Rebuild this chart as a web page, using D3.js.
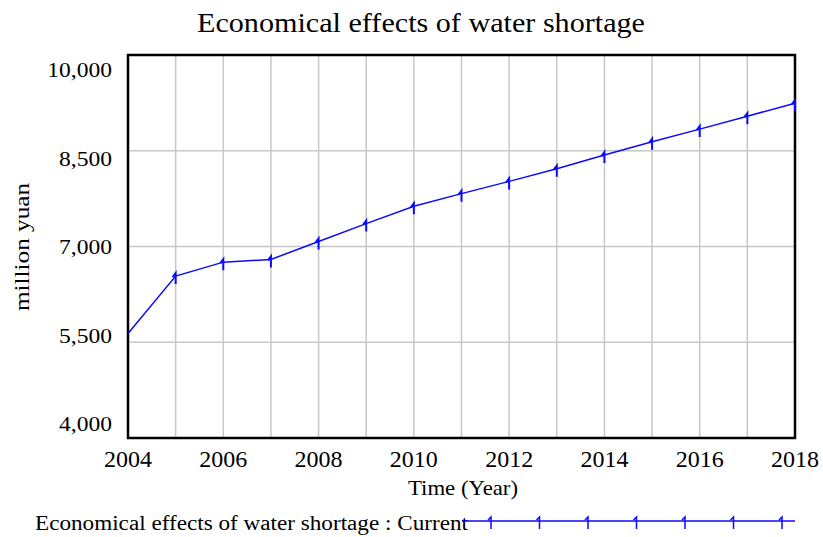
<!DOCTYPE html>
<html>
<head>
<meta charset="utf-8">
<script src="https://cdn.jsdelivr.net/npm/d3@7"></script>
<style>
  body { margin: 0; background: #fff; }
  text { font-family: "Liberation Serif", "Times New Roman", serif; fill: #000; }
</style>
</head>
<body>
<div id="chart"></div>
<script>
// chart values
const years = [2004, 2005, 2006, 2007, 2008, 2009, 2010, 2011, 2012, 2013, 2014, 2015, 2016, 2017, 2018];
const current = [5636, 6536, 6755, 6797, 7078, 7359, 7630, 7828, 8020, 8219, 8432, 8641, 8839, 9042, 9245];
const yTicks = [4000, 5500, 7000, 8500, 10000];
const xTicks = [2004, 2006, 2008, 2010, 2012, 2014, 2016, 2018];

const width = 823;
const height = 537;
const margin = {left: 128, right: 28, top: 55, bottom: 99};
const lineColor = "#0a0aff";

const svg = d3.select("#chart")
  .append("svg")
  .attr("width", width)
  .attr("height", height);

const xScale = d3.scaleLinear()
  .domain([2004, 2018])
  .range([margin.left, width - margin.right]);

const yScale = d3.scaleLinear()
  .domain([4000, 10000])
  .range([height - margin.bottom, margin.top]);

// vensim squeezes the y labels inside the frame, so they get their own scale
const yLabelScale = d3.scaleLinear()
  .domain([4000, 10000])
  .range([431, 77]);

// stretch a text element horizontally by a factor
function stretch(sel, f) {
  sel.each(function() {
    const w = this.getComputedTextLength();
    d3.select(this).attr("textLength", w * f).attr("lengthAdjust", "spacingAndGlyphs");
  });
}

// grid lines, one per year and one per y tick
svg.append("g")
  .selectAll("line")
  .data(years)
  .join("line")
    .attr("x1", d => xScale(d)).attr("x2", d => xScale(d))
    .attr("y1", margin.top).attr("y2", height - margin.bottom)
    .attr("stroke", "#c8c8c8").attr("stroke-width", 1.5);

svg.append("g")
  .selectAll("line")
  .data(yTicks)
  .join("line")
    .attr("x1", margin.left).attr("x2", width - margin.right)
    .attr("y1", d => yScale(d)).attr("y2", d => yScale(d))
    .attr("stroke", "#c8c8c8").attr("stroke-width", 1.5);

// y labels
svg.append("g")
  .selectAll("text")
  .data(yTicks)
  .join("text")
    .attr("x", 112)
    .attr("y", d => yLabelScale(d))
    .attr("text-anchor", "end")
    .attr("font-size", "22px")
    .text(d3.format(","))
    .call(stretch, 1.07);

// x labels
svg.append("g")
  .selectAll("text")
  .data(xTicks)
  .join("text")
    .attr("x", d => xScale(d))
    .attr("y", 467)
    .attr("text-anchor", "middle")
    .attr("font-size", "24px")
    .text(d3.format("d"));

// frame
svg.append("rect")
  .attr("x", margin.left).attr("y", margin.top)
  .attr("width", width - margin.left - margin.right)
  .attr("height", height - margin.top - margin.bottom)
  .attr("fill", "none").attr("stroke", "#000").attr("stroke-width", 2.5);

// data line
const pts = years.map((y, i) => [y, current[i]]);
svg.append("path")
  .datum(pts)
  .attr("fill", "none")
  .attr("stroke", lineColor)
  .attr("stroke-width", 1.5)
  .attr("d", d3.line().x(d => xScale(d[0])).y(d => yScale(d[1])));

// vensim style "1" markers
const marker = (x, y) => `M${x - 3},${y + 1}L${x},${y - 3}L${x},${y + 8}`;
svg.append("g")
  .selectAll("path")
  .data(pts.slice(1))
  .join("path")
    .attr("d", d => marker(xScale(d[0]), yScale(d[1])))
    .attr("fill", "none").attr("stroke", lineColor).attr("stroke-width", 2);

// titles
svg.append("text")
  .attr("x", 421).attr("y", 32)
  .attr("text-anchor", "middle")
  .attr("font-size", "27px")
  .attr("textLength", 448)
  .attr("lengthAdjust", "spacingAndGlyphs")
  .text("Economical effects of water shortage");

svg.append("text")
  .attr("transform", "translate(29,247) rotate(-90)")
  .attr("text-anchor", "middle")
  .attr("font-size", "21px")
  .attr("textLength", 128)
  .attr("lengthAdjust", "spacingAndGlyphs")
  .text("million yuan");

svg.append("text")
  .attr("x", 463).attr("y", 495)
  .attr("text-anchor", "middle")
  .attr("font-size", "21px")
  .attr("textLength", 110)
  .attr("lengthAdjust", "spacingAndGlyphs")
  .text("Time (Year)");

// legend
svg.append("text")
  .attr("x", 35).attr("y", 530)
  .attr("font-size", "20px")
  .attr("textLength", 433)
  .attr("lengthAdjust", "spacingAndGlyphs")
  .text("Economical effects of water shortage : Current");

const legendY = 521;
const legendX = d3.scaleLinear().domain([0, 6]).range([491, 782]);
svg.append("line")
  .attr("x1", 462).attr("x2", 795)
  .attr("y1", legendY).attr("y2", legendY)
  .attr("stroke", lineColor).attr("stroke-width", 1.5);
svg.append("g")
  .selectAll("path")
  .data(d3.range(7))
  .join("path")
    .attr("d", i => `M${legendX(i) - 3},${legendY - 1}L${legendX(i)},${legendY - 4}L${legendX(i)},${legendY + 8}`)
    .attr("fill", "none").attr("stroke", lineColor).attr("stroke-width", 1.5);
</script>
</body>
</html>
